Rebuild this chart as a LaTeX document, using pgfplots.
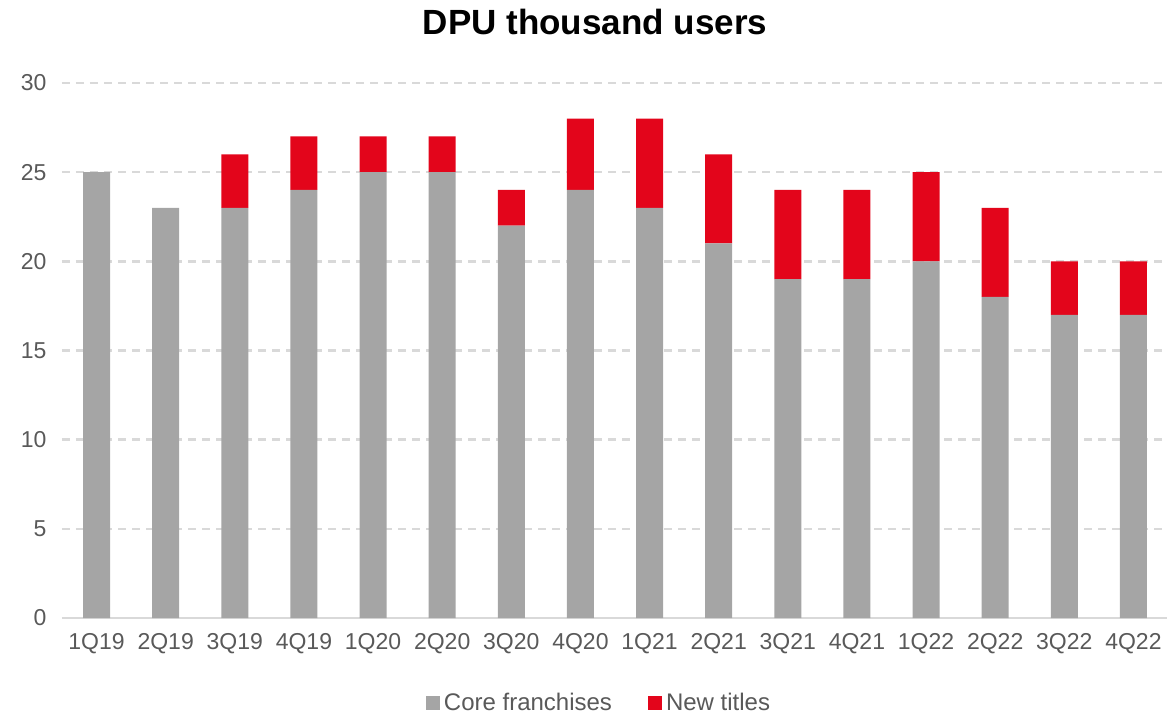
\documentclass[border=0pt]{standalone}
\usepackage{pgfplots}
\pgfplotsset{compat=1.18}
\usepackage{fontspec}
\setmainfont{Liberation Sans}
\definecolor{coregrey}{HTML}{A5A5A5}
\definecolor{newred}{HTML}{E3051B}
\definecolor{txt}{HTML}{595959}
\definecolor{gridc}{HTML}{D9D9D9}
\begin{document}
\begin{tikzpicture}
\begin{axis}[
  scale only axis,
  width=1106pt, height=535pt,
  ybar stacked,
  bar width=27pt,
  xmin=-0.5, xmax=15.5,
  ymin=0, ymax=30,
  ytick={0,5,10,15,20,25,30},
  xtick=data,
  xticklabels={1Q19,2Q19,3Q19,4Q19,1Q20,2Q20,3Q20,4Q20,1Q21,2Q21,3Q21,4Q21,1Q22,2Q22,3Q22,4Q22},
  axis line style={draw=none},
  axis x line*=bottom,
  axis y line*=left,
  major tick length=0pt,
  ymajorgrids,
  grid style={gridc, line width=2.5pt, dash pattern=on 8pt off 6pt},
  tick label style={font=\fontsize{23}{26}\selectfont, text=txt},
  /pgf/number format/assume math mode=true,
  yticklabel style={xshift=-12pt},
  xticklabel style={yshift=-12pt},
  legend style={at={(537pt,-85pt)}, anchor=center, draw=none, legend columns=2,
    font=\fontsize{24}{27}\selectfont, text=txt,
    /tikz/every odd column/.append style={column sep=2pt},
    /tikz/every even column/.append style={column sep=34pt}},
  legend image code/.code={\fill[#1] (0pt,-7pt) rectangle (14pt,7pt);},
]
\addplot[fill=coregrey, draw=none] coordinates {
(0,25) (1,23) (2,23) (3,24) (4,25) (5,25) (6,22) (7,24)
(8,23) (9,21) (10,19) (11,19) (12,20) (13,18) (14,17) (15,17)};
\addplot[fill=newred, draw=none] coordinates {
(0,0) (1,0) (2,3) (3,3) (4,2) (5,2) (6,2) (7,4)
(8,5) (9,5) (10,5) (11,5) (12,5) (13,5) (14,3) (15,3)};
\legend{Core franchises, New titles}
\draw[gridc, line width=2.5pt] (axis cs:-0.5,0) -- (axis cs:15.5,0);
\end{axis}
\node[font=\fontsize{35}{40}\selectfont\bfseries, text=black] at (533pt,596pt) {DPU thousand users};
\pgfresetboundingbox
\path (-62pt,-99pt) rectangle (1105pt,618pt);
\end{tikzpicture}
\end{document}
